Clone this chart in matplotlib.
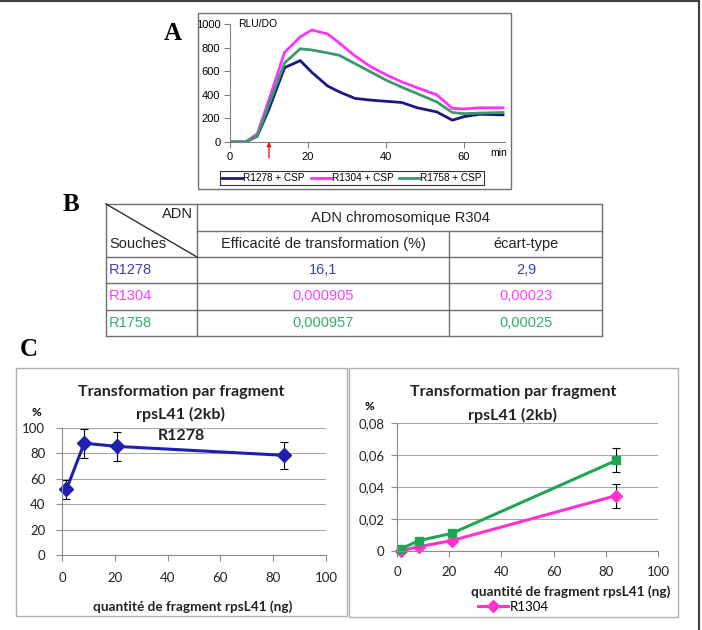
import matplotlib
matplotlib.use("Agg")
import matplotlib.pyplot as plt
from matplotlib.patches import Rectangle
from matplotlib.lines import Line2D

W, H = 702, 630

# --- panel A data (RLU/DO over time, min)
time_min = [0, 4, 7, 10, 14, 18, 21, 25, 28, 32, 36, 40, 44, 48, 53, 57, 60, 64, 70]
r1278_csp = [0, 0, 50, 280, 630, 690, 590, 475, 425, 370, 355, 345, 335, 290, 255, 185, 215, 235, 230]
r1304_csp = [0, 0, 70, 360, 760, 890, 950, 915, 840, 730, 640, 570, 510, 460, 400, 285, 280, 290, 290]
r1758_csp = [0, 0, 55, 320, 670, 790, 780, 755, 735, 665, 595, 525, 465, 410, 340, 250, 240, 245, 250]
arrow_time = 10

# --- panel B table
souches = ["R1278", "R1304", "R1758"]
efficacite = ["16,1", "0,000905", "0,000957"]
ecart_type = ["2,9", "0,00023", "0,00025"]

# --- panel C data
frag_ng = [1.7, 8.4, 21, 84]
c_r1278 = [51.7, 88, 85.5, 78.5]
c_r1278_err = [7.5, 11.6, 11.5, 10.5]
c_r1304 = [0.0002, 0.0027, 0.0065, 0.0346]
c_r1304_err = [0, 0, 0, 0.0075]
c_r1758 = [0.0015, 0.0065, 0.011, 0.0566]
c_r1758_err = [0, 0, 0, 0.0075]

NAVY = "#1a1a7e"
MAGENTA = "#ff33ff"
GREEN = "#3a9a6a"
BLUE_C = "#2020b0"
PINK_C = "#ff33cc"
GREEN_C = "#22a455"


def box(l, t, r, b):
    return [l / W, 1 - b / H, (r - l) / W, (b - t) / H]


def fx(x):
    return x / W


def fy(y):
    return 1 - y / H


fig = plt.figure(figsize=(W / 100, H / 100), dpi=100)

# outer border (top and right only)
fig.add_artist(Line2D([0, fx(699)], [fy(1), fy(1)], transform=fig.transFigure, color="#404040", lw=1.5))
fig.add_artist(Line2D([fx(699), fx(699)], [0, fy(1)], transform=fig.transFigure, color="#404040", lw=1.5))

# panel letters
for letter, x, y in [("A", 173, 34), ("B", 71, 205), ("C", 29, 350)]:
    fig.text(fx(x), fy(y), letter, fontsize=18, fontweight="bold", family="Liberation Serif",
             ha="center", va="center")

# ---------------- Panel A
fig.add_artist(Rectangle((fx(198), fy(189)), (511 - 198) / W, (189 - 13) / H,
                         transform=fig.transFigure, fill=False, ec="#707070", lw=1))
axA = fig.add_axes(box(230, 24, 505, 142))
axA.plot(time_min, r1278_csp, color=NAVY, lw=2, label="R1278 + CSP")
axA.plot(time_min, r1304_csp, color=MAGENTA, lw=2, label="R1304 + CSP")
axA.plot(time_min, r1758_csp, color=GREEN, lw=2, label="R1758 + CSP")
axA.set_xlim(0, 70.5)
axA.set_ylim(0, 1000)
axA.set_xticks([0, 20, 40, 60])
axA.set_yticks(range(0, 1001, 200))
for s in ["top", "right"]:
    axA.spines[s].set_visible(False)
for s in ["left", "bottom"]:
    axA.spines[s].set_color("#808080")
    axA.spines[s].set_linewidth(0.8)
axA.tick_params(direction="out", length=4, width=0.8, color="#808080", labelsize=8, pad=3,
                labelfontfamily="Liberation Sans")
axA.text(2, 1000, "RLU/DO", fontsize=7.5, family="Liberation Sans", va="center")
fig.text(fx(499), fy(153), "min", fontsize=7.5, family="Liberation Sans", ha="center", va="center")
axA.annotate("", xy=(arrow_time, 0), xytext=(arrow_time, -135), textcoords="data",
             arrowprops=dict(arrowstyle="-|>", color="red", lw=0.9, mutation_scale=6,
                             shrinkA=0, shrinkB=0),
             annotation_clip=False)
axA.legend(loc="center", bbox_to_anchor=(fx(352), fy(178)), bbox_transform=fig.transFigure,
           ncol=3, prop={"family": "Liberation Sans", "size": 7.2}, frameon=True,
           fancybox=False, edgecolor="black", handlelength=2.0, handletextpad=0.1,
           columnspacing=0.6, borderpad=0.2, borderaxespad=0).get_frame().set_linewidth(0.8)

# ---------------- Panel B (table)
axT = fig.add_axes(box(100, 200, 610, 340))
axT.set_xlim(100, 610)
axT.set_ylim(340, 200)
axT.axis("off")
lc = "#707070"
rows_y = [204, 231, 257, 283, 310, 336]
axT.plot([106, 602], [204, 204], color=lc, lw=1)
axT.plot([197, 602], [231, 231], color=lc, lw=1)
for y in rows_y[2:]:
    axT.plot([106, 602], [y, y], color=lc, lw=1)
axT.plot([106, 106], [204, 336], color=lc, lw=1)
axT.plot([197, 197], [204, 336], color=lc, lw=1)
axT.plot([449, 449], [231, 336], color=lc, lw=1)
axT.plot([602, 602], [204, 336], color=lc, lw=1)
axT.plot([106, 197], [204, 257], color="#303030", lw=1)
tf = dict(fontsize=10.5, family="Liberation Sans", va="center")
axT.text(193, 214, "ADN", ha="right", color="#222222", **tf)
axT.text(109, 244, "Souches", ha="left", color="#222222", **tf)
axT.text(400, 218, "ADN chromosomique R304", ha="center", color="#222222", **tf)
axT.text(323, 244, "Efficacité de transformation (%)", ha="center", color="#222222", **tf)
axT.text(526, 244, "écart-type", ha="center", color="#222222", **tf)
row_colors = ["#3f3fbf", "#ff3fff", "#2fae6a"]
for i, (s, e, et) in enumerate(zip(souches, efficacite, ecart_type)):
    yc = (rows_y[i + 2] + rows_y[i + 3]) / 2
    axT.text(109, yc, s, ha="left", color=row_colors[i], **tf)
    axT.text(323, yc, e, ha="center", color=row_colors[i], **tf)
    axT.text(526, yc, et, ha="center", color=row_colors[i], **tf)

# ---------------- Panel C
CF = "Lato"
fig.add_artist(Rectangle((fx(16), fy(616)), (347 - 16) / W, (616 - 368) / H,
                         transform=fig.transFigure, fill=False, ec="#b0b0b0", lw=1))
fig.add_artist(Rectangle((fx(349), fy(617)), (678 - 349) / W, (617 - 368) / H,
                         transform=fig.transFigure, fill=False, ec="#b0b0b0", lw=1))


def style_c(ax, ypad):
    for s in ["top", "right"]:
        ax.spines[s].set_visible(False)
    for s in ["left", "bottom"]:
        ax.spines[s].set_color("#8c8c8c")
        ax.spines[s].set_linewidth(0.8)
    ax.grid(axis="y", color="#a6a6a6", lw=0.8)
    ax.set_axisbelow(True)
    ax.tick_params(direction="out", length=4, width=0.8, color="#8c8c8c", labelsize=9.5,
                   labelcolor="#222222", labelfontfamily=CF)
    ax.tick_params(axis="x", pad=8)
    ax.tick_params(axis="y", pad=ypad)


TT = dict(fontsize=11.5, fontweight="bold", family=CF, ha="center", va="center", color="#222222")
XL = dict(fontsize=9.8, fontweight="bold", family=CF, ha="center", va="center", color="#222222")

axL = fig.add_axes(box(62, 428, 326, 555))
axL.errorbar(frag_ng, c_r1278, yerr=c_r1278_err, color=BLUE_C, lw=2.2, marker="D", ms=7,
             ecolor="black", elinewidth=0.8, capsize=3, capthick=0.8, clip_on=False)
axL.set_xlim(0, 100)
axL.set_ylim(0, 100)
axL.set_xticks(range(0, 101, 20))
axL.set_yticks(range(0, 101, 20))
style_c(axL, 8)
fig.text(fx(181), fy(392), "Transformation par fragment", **TT)
fig.text(fx(181), fy(414), "rpsL41 (2kb)", **TT)
fig.text(fx(181), fy(436), "R1278", **TT)
fig.text(fx(36), fy(413), "%", fontsize=8.5, fontweight="bold", family=CF, ha="center", va="center")
fig.text(fx(193), fy(607), "quantité de fragment rpsL41 (ng)", **XL)

axR = fig.add_axes(box(397, 423, 658, 551))
axR.errorbar(frag_ng, c_r1304, yerr=c_r1304_err, color=PINK_C, lw=2.2, marker="D", ms=6,
             ecolor="black", elinewidth=0.8, capsize=3, capthick=0.8, clip_on=False)
axR.errorbar(frag_ng, c_r1758, yerr=c_r1758_err, color=GREEN_C, lw=2.2, marker="s", ms=6,
             ecolor="black", elinewidth=0.8, capsize=3, capthick=0.8, clip_on=False)
axR.set_xlim(0, 100)
axR.set_ylim(0, 0.08)
axR.set_xticks(range(0, 101, 20))
axR.set_yticks([0, 0.02, 0.04, 0.06, 0.08])
axR.set_yticklabels(["0", "0,02", "0,04", "0,06", "0,08"])
style_c(axR, 5)
axR.tick_params(axis="x", pad=7)
fig.text(fx(513), fy(392), "Transformation par fragment", **TT)
fig.text(fx(513), fy(415), "rpsL41 (2kb)", **TT)
fig.text(fx(369), fy(407), "%", fontsize=8.5, fontweight="bold", family=CF, ha="center", va="center")
fig.text(fx(571), fy(592), "quantité de fragment rpsL41 (ng)", **XL)
axR.legend(handles=[Line2D([], [], color=PINK_C, lw=2.2, marker="D", ms=6)], labels=["R1304"],
           loc="center left", bbox_to_anchor=(fx(478), fy(607)), bbox_transform=fig.transFigure,
           frameon=False, handlelength=2.3, handletextpad=0.1, borderaxespad=0, borderpad=0,
           prop={"family": CF, "size": 9.5})

fig.savefig("out.png", dpi=100)
